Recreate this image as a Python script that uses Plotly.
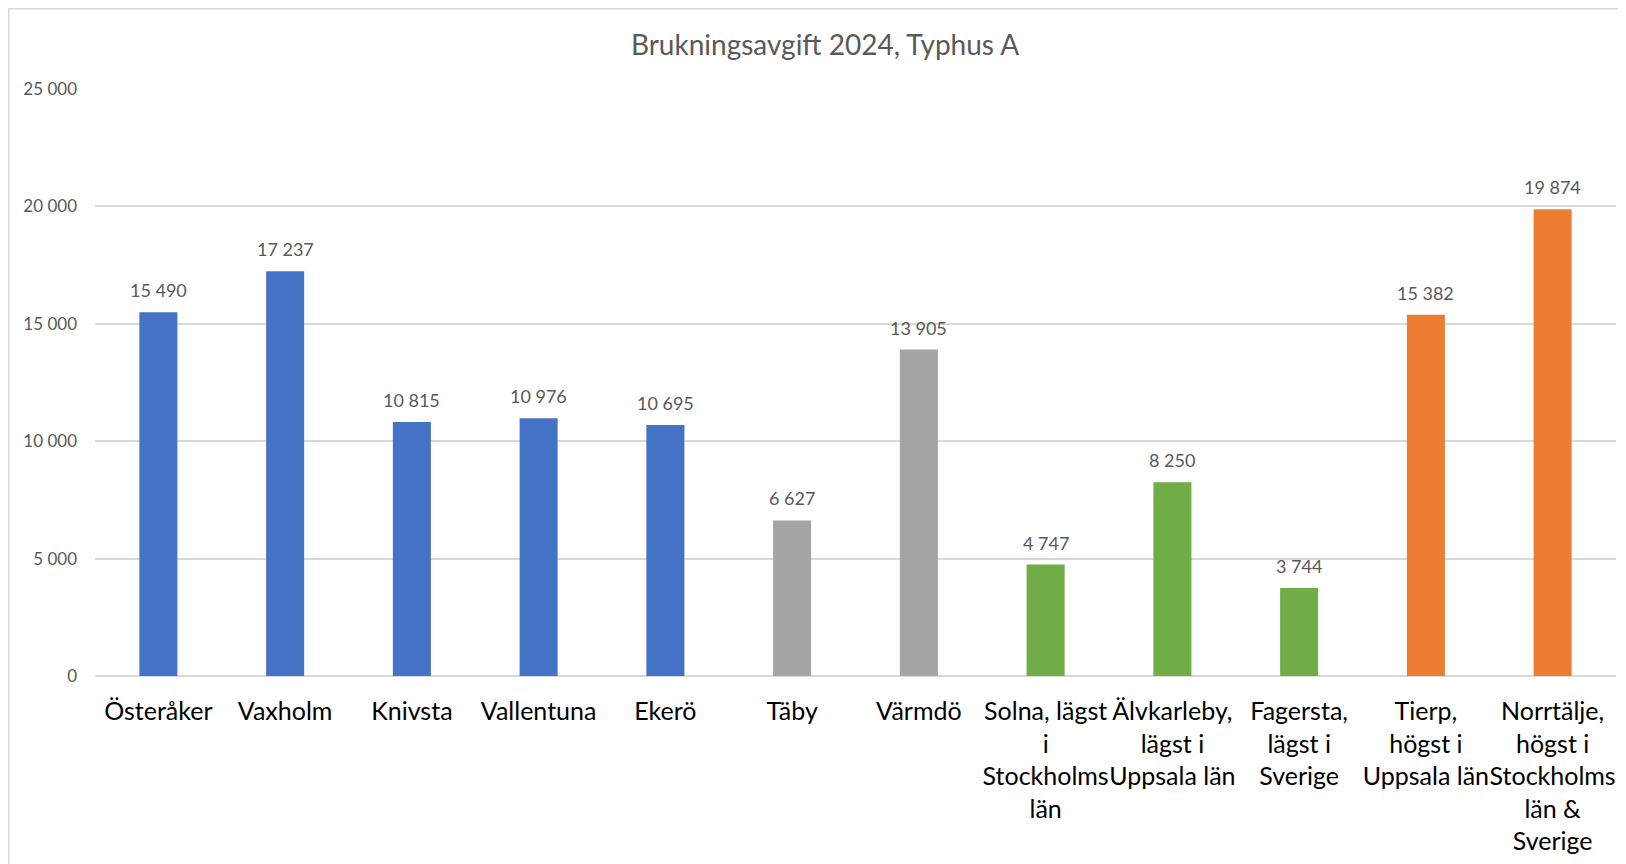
import plotly.graph_objects as go

categories = ["Österåker", "Vaxholm", "Knivsta", "Vallentuna", "Ekerö", "Täby", "Värmdö",
              "Solna, lägst i Stockholms län", "Älvkarleby, lägst i Uppsala län",
              "Fagersta, lägst i Sverige", "Tierp, högst i Uppsala län",
              "Norrtälje, högst i Stockholms län & Sverige"]
tick_labels = ["Österåker", "Vaxholm", "Knivsta", "Vallentuna", "Ekerö", "Täby", "Värmdö",
               "Solna, lägst<br>i<br>Stockholms<br>län", "Älvkarleby,<br>lägst i<br>Uppsala län",
               "Fagersta,<br>lägst i<br>Sverige", "Tierp,<br>högst i<br>Uppsala län",
               "Norrtälje,<br>högst i<br>Stockholms<br>län &<br>Sverige"]
values = [15490, 17237, 10815, 10976, 10695, 6627, 13905, 4747, 8250, 3744, 15382, 19874]
groups = ["blue"] * 5 + ["gray"] * 2 + ["green"] * 3 + ["orange"] * 2
y_ticks = [0, 5000, 10000, 15000, 20000, 25000]

palette = {"blue": "#4472C4", "gray": "#A5A5A5", "green": "#70AD47", "orange": "#ED7D31"}
FONT = "Lato"

W, H = 1618, 856
L, R, T, B = 87, 10, 81, 188
PW, PH = W - L - R, H - T - B

def fmt(v):
    return f"{v:,}".replace(",", " ")

fig = go.Figure()
fig.add_trace(go.Bar(
    x=categories, y=values,
    marker=dict(color=[palette[g] for g in groups], line=dict(width=0)),
    hoverinfo="x+y",
))

for c, v in zip(categories, values):
    fig.add_annotation(x=c, y=v, text=fmt(v), showarrow=False, yanchor="bottom",
                       yshift=9, font=dict(family=FONT, size=18, color="#595959"))

# chart border (left/top visible)
fig.add_shape(type="rect", xref="paper", yref="paper",
              x0=(0.75 - L) / PW, x1=(W + 20 - L) / PW,
              y0=-(H + 20 - (T + PH)) / PH, y1=1 + (T - 0.75) / PH,
              line=dict(color="#D9D9D9", width=1.5), layer="below")

fig.update_layout(
    width=W, height=H, autosize=False,
    margin=dict(l=L, r=R, t=T, b=B, autoexpand=False),
    paper_bgcolor="white", plot_bgcolor="white",
    separators=", ",
    bargap=0.7,
    showlegend=False,
    title=dict(text="Brukningsavgift 2024, Typhus A", x=817 / W, xanchor="center",
               y=1 - 37 / H, yanchor="middle",
               font=dict(family=FONT, size=28, color="#595959")),
    xaxis=dict(tickmode="array", tickvals=categories, ticktext=tick_labels,
               tickfont=dict(family=FONT, size=25, color="#000000"), tickangle=0,
               showgrid=False, showline=False, zeroline=False, ticks="",
               ticklabelstandoff=18, fixedrange=True, automargin=False),
    yaxis=dict(range=[0, 25000], tickvals=y_ticks, tickformat=",d",
               tickfont=dict(family=FONT, size=17, color="#595959"),
               showgrid=True, gridcolor="#D9D9D9", gridwidth=1.5,
               zeroline=True, zerolinecolor="#D9D9D9", zerolinewidth=1.5,
               showline=False, ticks="", ticklabelstandoff=17, fixedrange=True,
               automargin=False),
)

fig.write_html("out.html")
